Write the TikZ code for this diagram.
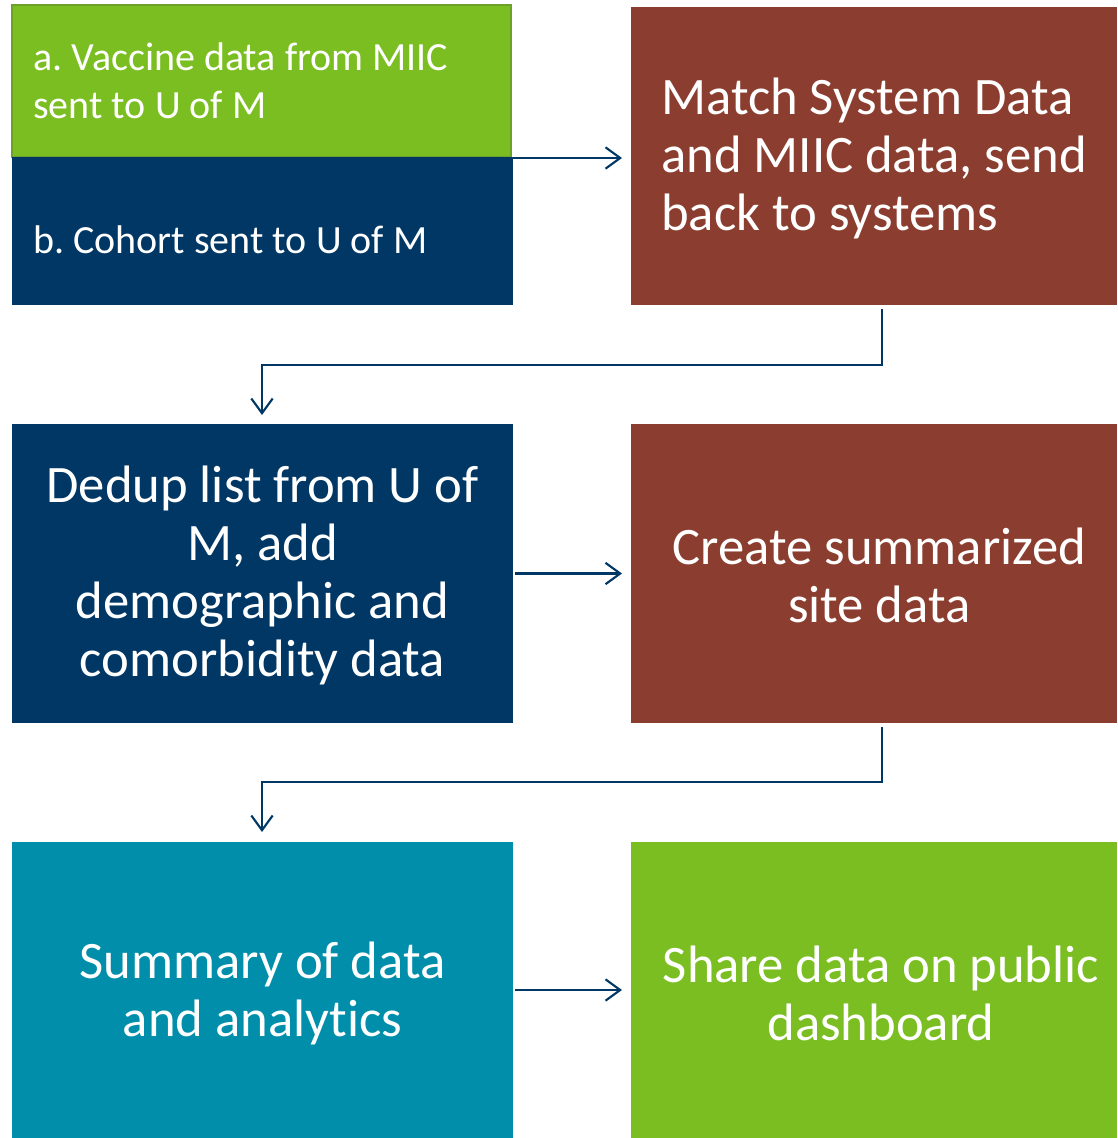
\documentclass[tikz,border=0pt]{standalone}
\usepackage{fontspec}
\setmainfont{Carlito}[Ligatures={NoCommon}]
\usetikzlibrary{arrows.meta}
\definecolor{cgreen}{RGB}{123,190,34}
\definecolor{cgreenb}{RGB}{108,160,40}
\definecolor{cnavy}{RGB}{0,55,100}
\definecolor{cbrown}{RGB}{139,62,47}
\definecolor{cteal}{RGB}{0,142,170}
\tikzset{
  box/.style={anchor=north west, inner sep=0pt, outer sep=0pt, text=white},
  bigtxt/.style={font=\fontsize{39.5pt}{43.5pt}\selectfont, align=center, yshift=-1.5pt},
  smalltxt/.style={font=\fontsize{30pt}{36pt}\selectfont, align=left, text=white, anchor=west, inner sep=0pt},
  arr/.style={draw=cnavy, line width=1.6pt, -{Straight Barb[length=11pt,width=16pt,line width=1.6pt]}}
}
\begin{document}
\frenchspacing
\begin{tikzpicture}[x=0.75pt,y=-0.75pt]
\useasboundingbox (0,0) rectangle (1117,1138);
% top left stacked boxes
\node[box, fill=cgreen, draw=cgreenb, line width=1pt, minimum width=374.25pt, minimum height=114pt] (a) at (12,5) {};
\node[box, fill=cnavy, minimum width=375.75pt, minimum height=111pt] (b) at (12,157) {};
\node[smalltxt] (at) at (33,81) {a. Vaccine data from MIIC\\sent to U of M};
\node[smalltxt] (bt) at (33,240) {b. Cohort sent to U of M};
% top right
\node[box, fill=cbrown, minimum width=364.5pt, minimum height=223.5pt] (match) at (631,7) {};
\node[bigtxt, align=left, anchor=west, inner sep=0pt, text=white] (matcht) at (661,156) {Match System Data\\and MIIC data, send\\back to systems};
% row 2
\node[box, fill=cnavy, minimum width=375.75pt, minimum height=224.25pt] (dedup) at (12,424) {};
\node[bigtxt, text=white] at (dedup.center) {Dedup list from U of\\M, add\\demographic and\\comorbidity data};
\node[box, fill=cbrown, minimum width=364.5pt, minimum height=224.25pt] (create) at (631,424) {};
\node[bigtxt, text=white] at ([xshift=4pt]create.center) {Create summarized\\site data};
% row 3
\node[box, fill=cteal, minimum width=375.75pt, minimum height=222pt] (summary) at (12,842) {};
\node[bigtxt, text=white] at ([yshift=-1pt]summary.center) {Summary of data\\and analytics};
\node[box, fill=cgreen, minimum width=364.5pt, minimum height=222pt] (share) at (631,842) {};
\node[bigtxt, text=white] at ([xshift=5.25pt,yshift=-1pt]share.center) {Share data on public\\dashboard};
% connectors
\coordinate (e1) at (882,309);
\coordinate (e2) at (882,727);
\draw[arr] ([yshift=-0.75pt]b.north east) -- ([xshift=-6.75pt,yshift=-0.75pt]match.west |- b.north);
\draw[arr] ([xshift=1.5pt]dedup.east) -- ([xshift=-6.75pt]create.west);
\draw[arr] ([xshift=1.5pt]summary.east) -- ([xshift=-6.75pt]share.west);
\draw[arr] (e1) -- (882,365) -| ([yshift=6.75pt]dedup.north -| 262,0);
\draw[arr] (e2) -- (882,782) -| ([yshift=7.5pt]summary.north -| 262,0);
\end{tikzpicture}
\end{document}
